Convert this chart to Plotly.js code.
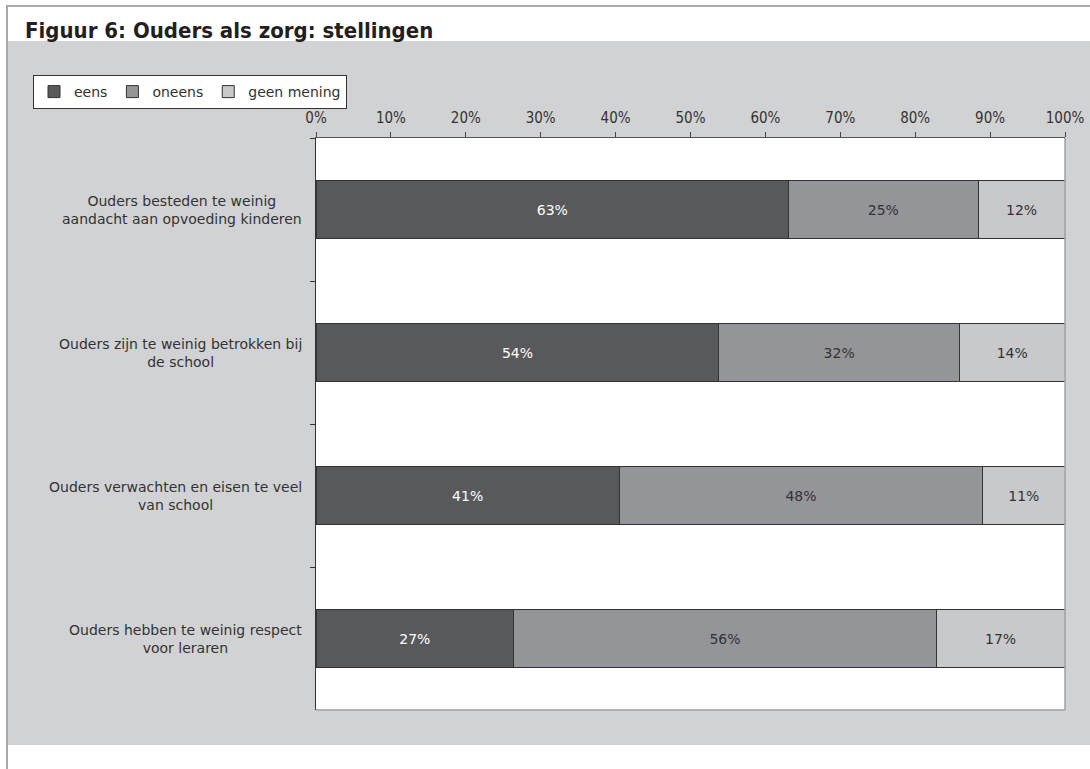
<!DOCTYPE html>
<html>
<head>
<meta charset="utf-8">
<script src="https://cdn.plot.ly/plotly-3.0.1.min.js"></script>
<style>html,body{margin:0;padding:0;background:#fff;}#chart{width:1090px;height:769px;}</style>
</head>
<body>
<div id="chart"></div>
<script>
const categories = [
  "Ouders besteden te weinig<br>aandacht aan opvoeding kinderen",
  "Ouders zijn te weinig betrokken bij<br>de school",
  "Ouders verwachten en eisen te veel<br>van school",
  "Ouders hebben te weinig respect<br>voor leraren"
];
const seriesNames = ["eens", "oneens", "geen mening"];
const eensValues = [63.1, 53.8, 40.5, 26.4];
const oneensValues = [25.3, 32.1, 48.5, 56.4];
const geenValues = [11.6, 14.1, 11.0, 17.2];
const eensLabels = ["63%", "54%", "41%", "27%"];
const oneensLabels = ["25%", "32%", "48%", "56%"];
const geenLabels = ["12%", "14%", "11%", "17%"];
const tickVals = [0, 10, 20, 30, 40, 50, 60, 70, 80, 90, 100];
const tickLabels = ["0%", "10%", "20%", "30%", "40%", "50%", "60%", "70%", "80%", "90%", "100%"];

const W = 1090, H = 769;
const ml = 316, mr = 25, mt = 138, mb = 59;
const pw = W - ml - mr, ph = H - mt - mb;
const px = v => (v - ml) / pw;
const py = v => (H - mb - v) / ph;

const colors = ["#58595b", "#949598", "#c8c9cb"];
const textColors = ["#ffffff", "#333333", "#333333"];
const vals = [eensValues, oneensValues, geenValues];
const labs = [eensLabels, oneensLabels, geenLabels];

const traces = seriesNames.map((name, i) => ({
  type: "bar",
  orientation: "h",
  name: name,
  y: categories,
  x: vals[i],
  text: labs[i],
  texttemplate: "%{text}",
  textposition: "inside",
  insidetextanchor: "middle",
  constraintext: "none",
  textangle: 0,
  textfont: {family: "DejaVu Sans", size: 14, color: textColors[i]},
  marker: {color: colors[i], line: {color: "#333333", width: 1}},
  hoverinfo: "none"
}));

const annotations = categories.map(c => ({
  xref: "paper", yref: "y", x: 0, y: c,
  xanchor: "right", yanchor: "middle", xshift: -12,
  align: "center", showarrow: false, text: c,
  font: {family: "DejaVu Sans", size: 14, color: "#333333"}
}));

const layout = {
  width: W, height: H,
  margin: {l: ml, r: mr, t: mt, b: mb},
  paper_bgcolor: "#ffffff",
  plot_bgcolor: "#ffffff",
  barmode: "stack",
  bargap: 0.594,
  title: {
    text: "Figuur 6: Ouders als zorg: stellingen",
    font: {family: "DejaVu Sans Condensed", size: 22, color: "#231f20", weight: "bold"},
    xref: "container", yref: "container",
    x: 25 / W, xanchor: "left",
    y: 1 - 23 / H, yanchor: "top"
  },
  xaxis: {
    side: "top", range: [0, 100], tickvals: tickVals, ticktext: tickLabels,
    ticks: "outside", ticklen: 5, tickcolor: "#444", showgrid: false, zeroline: false,
    showline: true, linecolor: "#555", linewidth: 1, ticklabelstandoff: 3,
    tickfont: {family: "DejaVu Sans Condensed", size: 15, color: "#333"}, fixedrange: true
  },
  yaxis: {
    type: "category", autorange: "reversed", showticklabels: false,
    ticks: "outside", ticklen: 5, tickcolor: "#333", tickson: "boundaries",
    showgrid: false, zeroline: false, showline: true, linecolor: "#333", linewidth: 1,
    fixedrange: true
  },
  showlegend: true,
  legend: {
    orientation: "h", xref: "container", yref: "container",
    x: 33 / W, xanchor: "left", y: 1 - 75 / H, yanchor: "top",
    bgcolor: "#ffffff", bordercolor: "#333333", borderwidth: 1,
    itemwidth: 30, traceorder: "normal",
    font: {family: "DejaVu Sans", size: 14, color: "#333"}
  },
  annotations: annotations,
  shapes: [
    {type: "rect", xref: "paper", yref: "paper", layer: "below",
     x0: px(8), x1: px(1092), y0: py(745), y1: py(41),
     fillcolor: "#d1d2d4", line: {width: 0}},
    {type: "line", xref: "paper", yref: "paper", layer: "below",
     x0: px(6), x1: px(1092), y0: py(6), y1: py(6),
     line: {color: "#a7a9ac", width: 2}},
    {type: "line", xref: "paper", yref: "paper", layer: "below",
     x0: px(7), x1: px(7), y0: py(6), y1: py(771),
     line: {color: "#a7a9ac", width: 2}},
    {type: "rect", xref: "x domain", yref: "y domain", layer: "below",
     x0: 0, x1: 1, y0: 0, y1: 1, fillcolor: "#ffffff", line: {width: 0}},
    {type: "line", xref: "paper", yref: "paper", layer: "above",
     x0: 1, x1: 1, y0: 0, y1: 1, line: {color: "#a0a0a0", width: 1.5}},
    {type: "line", xref: "paper", yref: "paper", layer: "above",
     x0: 0, x1: 1, y0: 0, y1: 0, line: {color: "#a0a0a0", width: 1.5}}
  ]
};

Plotly.newPlot("chart", traces, layout, {displayModeBar: false, staticPlot: true});
</script>
</body>
</html>
